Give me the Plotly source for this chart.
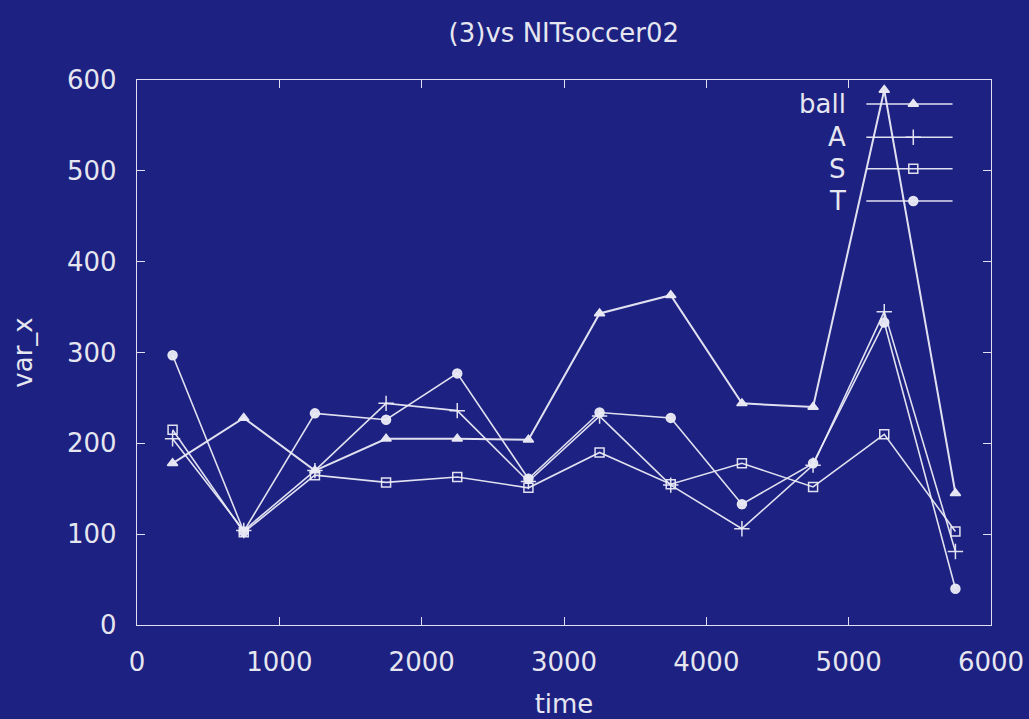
import plotly.graph_objects as go

time = [250, 750, 1250, 1750, 2250, 2750, 3250, 3750, 4250, 4750, 5250, 5750]
ball = [178, 228, 170, 205, 205, 204, 343, 363, 244, 240, 589, 145]
A = [205, 104, 170, 244, 236, 158, 230, 154, 106, 176, 345, 81]
S = [215, 102, 165, 157, 163, 151, 190, 155, 178, 152, 210, 103]
T = [297, 103, 233, 226, 277, 161, 234, 228, 133, 178, 333, 40]

series_names = ["ball", "A", "S", "T"]
series_values = [ball, A, S, T]
symbols = ["triangle-up", "cross-thin", "square-open", "circle"]

BG = "#1c2182"
FG = "rgba(235,235,245,0.95)"
TXT = "#e6e6f0"
FONT = "DejaVu Sans, Arial, sans-serif"
FS = 26

fig = go.Figure()
for name, vals, sym in zip(series_names, series_values, symbols):
    fig.add_trace(go.Scatter(
        x=time, y=vals, mode="lines+markers", name=name,
        line=dict(color=FG, width=1.6 if name != "ball" else 2),
        marker=dict(symbol=sym, size=9 if sym != "cross-thin" else 11, color=FG,
                    line=dict(color=FG, width=1.5)),
        showlegend=False,
    ))

# gnuplot-style key on an overlay axis (0..1 across the plot area)
key_y = [0.956, 0.895, 0.837, 0.778]
for name, sym, ky in zip(series_names, symbols, key_y):
    fig.add_trace(go.Scatter(
        x=[0.854, 0.955], y=[ky, ky], mode="lines", xaxis="x2", yaxis="y2",
        line=dict(color=FG, width=1.5), showlegend=False, hoverinfo="skip"))
    fig.add_trace(go.Scatter(
        x=[0.909], y=[ky], mode="markers", xaxis="x2", yaxis="y2",
        marker=dict(symbol=sym, size=9 if sym != "cross-thin" else 11, color=FG,
                    line=dict(color=FG, width=1.5)),
        showlegend=False, hoverinfo="skip"))
    fig.add_annotation(x=0.832, y=ky, xref="x2", yref="y2", text=name,
                       showarrow=False, xanchor="right", yanchor="middle",
                       font=dict(family=FONT, size=FS, color=TXT))

axis_common = dict(
    showgrid=False, zeroline=False, showline=True, linecolor=FG, linewidth=1.3,
    mirror="ticks", ticks="inside", ticklen=8, tickwidth=1, tickcolor=FG,
    tickfont=dict(family=FONT, size=FS, color=TXT), automargin=False,
)

fig.update_layout(
    width=1029, height=719, autosize=False,
    paper_bgcolor=BG, plot_bgcolor=BG,
    margin=dict(l=137, r=38, t=80, b=94, pad=0, autoexpand=False),
    title=dict(text="(3)vs NITsoccer02", x=0.548, xanchor="center", y=0.954, yanchor="middle",
               font=dict(family=FONT, size=FS, color=TXT), automargin=False),
    xaxis=dict(range=[0, 6000], dtick=1000, ticklabelstandoff=14,
               title=dict(text="time", standoff=19, font=dict(family=FONT, size=FS, color=TXT)),
               **axis_common),
    yaxis=dict(range=[0, 600], dtick=100, ticklabelstandoff=14,
               title=dict(text="var_x", standoff=26, font=dict(family=FONT, size=FS, color=TXT)),
               **axis_common),
    xaxis2=dict(range=[0, 1], overlaying="x", visible=False, fixedrange=True),
    yaxis2=dict(range=[0, 1], overlaying="y", visible=False, fixedrange=True),
    showlegend=False,
)

fig.write_html(
    "out.html",
    config={"displayModeBar": False, "responsive": False},
    post_script="document.body.style.margin='0';document.body.style.overflow='hidden';"
                "document.body.style.background='" + BG + "';",
)
